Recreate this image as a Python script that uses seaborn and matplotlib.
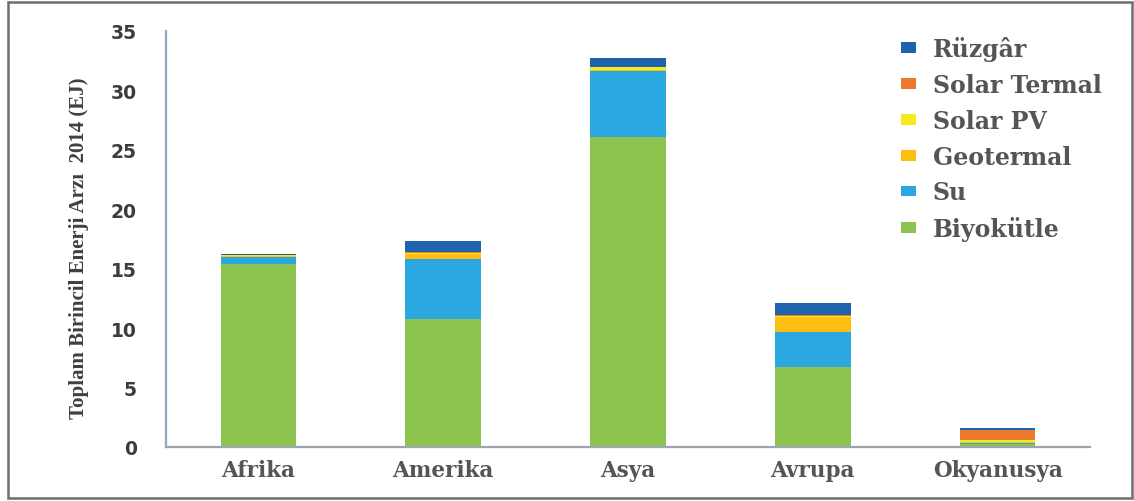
import matplotlib
matplotlib.use("Agg")
import matplotlib.pyplot as plt
from matplotlib.patches import Patch, Rectangle
import numpy as np
import pandas as pd
import seaborn as sns

# Regions and renewable supply by source (EJ, 2014)
regions = ["Afrika", "Amerika", "Asya", "Avrupa", "Okyanusya"]
biyokutle = [15.4, 10.8, 26.1, 6.7, 0.25]
su = [0.6, 5.0, 5.5, 2.95, 0.10]
geotermal = [0.10, 0.45, 0.10, 1.25, 0.08]
solar_pv = [0.03, 0.10, 0.25, 0.15, 0.15]
solar_termal = [0.03, 0.05, 0.05, 0.05, 0.84]
ruzgar = [0.04, 0.90, 0.70, 1.00, 0.17]

# Stack order, bottom to top
series_names = ["Biyokütle", "Su", "Geotermal", "Solar PV", "Solar Termal", "Rüzgâr"]
series_values = [biyokutle, su, geotermal, solar_pv, solar_termal, ruzgar]
series_colors = ["#8DC450", "#2BA8E0", "#FDBF0F", "#F7EA1B", "#EB7A2E", "#1F62AD"]
y_ticks = [0, 5, 10, 15, 20, 25, 30, 35]

sns.set_theme(style="white")
plt.rcParams["font.family"] = ["DejaVu Sans"]

fig = plt.figure(figsize=(11.34, 5.02), dpi=100)
ax = fig.add_axes([0.1464, 0.1076, 0.8148, 0.8287])

# Cumulative totals, drawn from the tallest layer down so each layer shows its own band
values = np.array(series_values, dtype=float)
cumulative = np.cumsum(values, axis=0)
for name, color, level in reversed(list(zip(series_names, series_colors, cumulative))):
    df = pd.DataFrame({"Bölge": regions, "Değer": level})
    sns.barplot(data=df, x="Bölge", y="Değer", color=color, width=0.41,
                saturation=1, linewidth=0, edgecolor="none", ax=ax, zorder=2)

ax.set_xlim(-0.5, 4.5)
ax.set_ylim(0, 35)
ax.set_yticks(y_ticks)
ax.set_yticklabels([str(t) for t in y_ticks], fontsize=13.5, fontweight="bold",
                   color="#3c3c3c", family="DejaVu Sans")
ax.tick_params(axis="y", length=0, pad=21)
ax.tick_params(axis="x", length=0, pad=9)
for lbl in ax.get_xticklabels():
    lbl.set_family("DejaVu Serif")
    lbl.set_fontweight("bold")
    lbl.set_fontsize(15.5)
    lbl.set_color("#555555")
ax.set_xlabel("")
ax.set_ylabel("Toplam Birincil Enerji Arzı  2014 (EJ)", family="Liberation Serif",
              fontweight="bold", fontsize=15, color="#404040")
ax.yaxis.set_label_coords(-0.083, 0.48)

for side in ["top", "right"]:
    ax.spines[side].set_visible(False)
ax.spines["left"].set_color("#8FA6C4")
ax.spines["left"].set_linewidth(1.6)
ax.spines["bottom"].set_color("#9EA5AE")
ax.spines["bottom"].set_linewidth(1.6)

handles = [Patch(facecolor=c, edgecolor="none") for c in series_colors]
leg = ax.legend(handles[::-1], series_names[::-1], loc="upper left",
                bbox_to_anchor=(0.785, 1.01), frameon=False,
                prop={"family": "DejaVu Serif", "weight": "bold", "size": 17},
                handlelength=0.65, handleheight=0.33, handletextpad=0.7,
                labelspacing=0.5, borderaxespad=0)
for t in leg.get_texts():
    t.set_color("#555555")

# Outer frame around the whole figure
fig.patches.append(Rectangle((8 / 1134, 3 / 502), 1124 / 1134, 496 / 502,
                             transform=fig.transFigure, fill=False,
                             edgecolor="#6e6e6e", linewidth=1.8))

fig.savefig("out.png", dpi=100)
